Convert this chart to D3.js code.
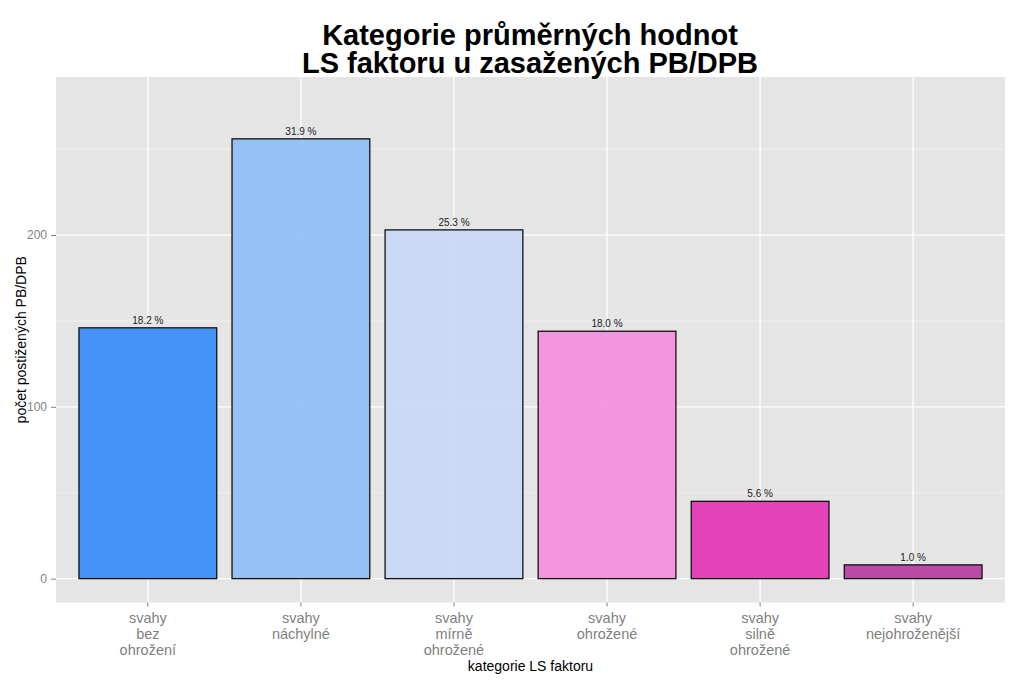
<!DOCTYPE html>
<html>
<head>
<meta charset="utf-8">
<script src="https://cdn.jsdelivr.net/npm/d3@7"></script>
<style>
  html, body { margin: 0; padding: 0; background: #ffffff; }
  svg { display: block; font-family: "Liberation Sans", Arial, sans-serif; }
</style>
</head>
<body>
<svg id="chart" width="1024" height="683"></svg>
<script>
// ---- data ----
const categories = ["svahy bez ohrožení", "svahy náchylné", "svahy mírně ohrožené", "svahy ohrožené", "svahy silně ohrožené", "svahy nejohroženější"];
const categoryLines = [["svahy", "bez", "ohrožení"], ["svahy", "náchylné"], ["svahy", "mírně", "ohrožené"], ["svahy", "ohrožené"], ["svahy", "silně", "ohrožené"], ["svahy", "nejohroženější"]];
const counts = [146, 256, 203, 144, 45, 8];
const barColors = ["#3389F7", "#8DBCF7", "#C6D7F7", "#F78CDE", "#E330B3", "#B4399E"];
const yTicks = [0, 100, 200];
const yMinorTicks = [50, 150, 250];
const titleLines = ["Kategorie průměrných hodnot", "LS faktoru u zasažených PB/DPB"];
const xTitle = "kategorie LS faktoru";
const yTitle = "počet postižených PB/DPB";

// ---- layout ----
const panel = { left: 56, right: 1005, top: 77, bottom: 602.5 };
const svg = d3.select("#chart");

const x = d3.scaleBand()
  .domain(categories)
  .range([panel.left, panel.right])
  .paddingInner(0.1)
  .paddingOuter(0.15);

const y = d3.scaleLinear()
  .domain([-13.9, 292])
  .range([panel.bottom, panel.top]);

// panel background
svg.append("rect")
  .attr("x", panel.left).attr("y", panel.top)
  .attr("width", panel.right - panel.left)
  .attr("height", panel.bottom - panel.top)
  .attr("fill", "#E5E5E5");

// minor grid
svg.append("g").selectAll("line").data(yMinorTicks).join("line")
  .attr("x1", panel.left).attr("x2", panel.right)
  .attr("y1", d => y(d)).attr("y2", d => y(d))
  .attr("stroke", "#F2F2F2").attr("stroke-width", 0.8);

// major grid
svg.append("g").selectAll("line").data(yTicks).join("line")
  .attr("x1", panel.left).attr("x2", panel.right)
  .attr("y1", d => y(d)).attr("y2", d => y(d))
  .attr("stroke", "#FFFFFF").attr("stroke-width", 1.3);

svg.append("g").selectAll("line").data(categories).join("line")
  .attr("x1", d => x(d) + x.bandwidth() / 2).attr("x2", d => x(d) + x.bandwidth() / 2)
  .attr("y1", panel.top).attr("y2", panel.bottom)
  .attr("stroke", "#FFFFFF").attr("stroke-width", 1.3);

// bars
const total = d3.sum(counts);
svg.append("g").selectAll("rect").data(counts).join("rect")
  .attr("x", (d, i) => x(categories[i]))
  .attr("width", x.bandwidth())
  .attr("y", d => y(d))
  .attr("height", d => y(0) - y(d))
  .attr("fill", (d, i) => barColors[i])
  .attr("fill-opacity", 0.9)
  .attr("stroke", "#111111")
  .attr("stroke-width", 1.3);

// value labels
svg.append("g").selectAll("text").data(counts).join("text")
  .attr("x", (d, i) => x(categories[i]) + x.bandwidth() / 2)
  .attr("y", d => y(d) - 4)
  .attr("text-anchor", "middle")
  .attr("font-size", 10)
  .attr("fill", "#222222")
  .text(d => (d / total * 100).toFixed(1) + " %");

// y axis ticks
const yAxis = d3.axisLeft(y).tickValues(yTicks).tickSize(5).tickPadding(4);
const gy = svg.append("g").attr("transform", `translate(${panel.left},0)`).call(yAxis);
gy.select(".domain").remove();
gy.selectAll(".tick line").attr("stroke", "#7F7F7F").attr("stroke-width", 1);
gy.selectAll(".tick text").attr("fill", "#7F7F7F").attr("font-size", 12)
  .attr("font-family", "Liberation Sans, Arial, sans-serif");

// x axis ticks
const xAxis = d3.axisBottom(x).tickSize(4).tickFormat("");
const gx = svg.append("g").attr("transform", `translate(0,${panel.bottom})`).call(xAxis);
gx.select(".domain").remove();
gx.selectAll(".tick line").attr("stroke", "#7F7F7F").attr("stroke-width", 1);

// x tick labels (multi-line)
const xl = svg.append("g").selectAll("text").data(categories).join("text")
  .attr("text-anchor", "middle")
  .attr("font-size", 14.5)
  .attr("fill", "#7F7F7F");
xl.each(function (d, i) {
  const t = d3.select(this);
  categoryLines[i].forEach((line, j) => {
    t.append("tspan")
      .attr("x", x(d) + x.bandwidth() / 2)
      .attr("y", 623 + j * 16)
      .text(line);
  });
});

// axis titles
svg.append("text")
  .attr("x", (panel.left + panel.right) / 2)
  .attr("y", 671)
  .attr("text-anchor", "middle")
  .attr("font-size", 14)
  .attr("fill", "#000")
  .text(xTitle);

svg.append("text")
  .attr("transform", `translate(26,${(panel.top + panel.bottom) / 2}) rotate(-90)`)
  .attr("text-anchor", "middle")
  .attr("font-size", 14)
  .attr("fill", "#000")
  .text(yTitle);

// title
const title = svg.append("text")
  .attr("text-anchor", "middle")
  .attr("font-size", 29)
  .attr("font-weight", "bold")
  .attr("fill", "#000");
titleLines.forEach((line, j) => {
  title.append("tspan")
    .attr("x", 530)
    .attr("y", 45 + j * 28)
    .text(line);
});
</script>
</body>
</html>
